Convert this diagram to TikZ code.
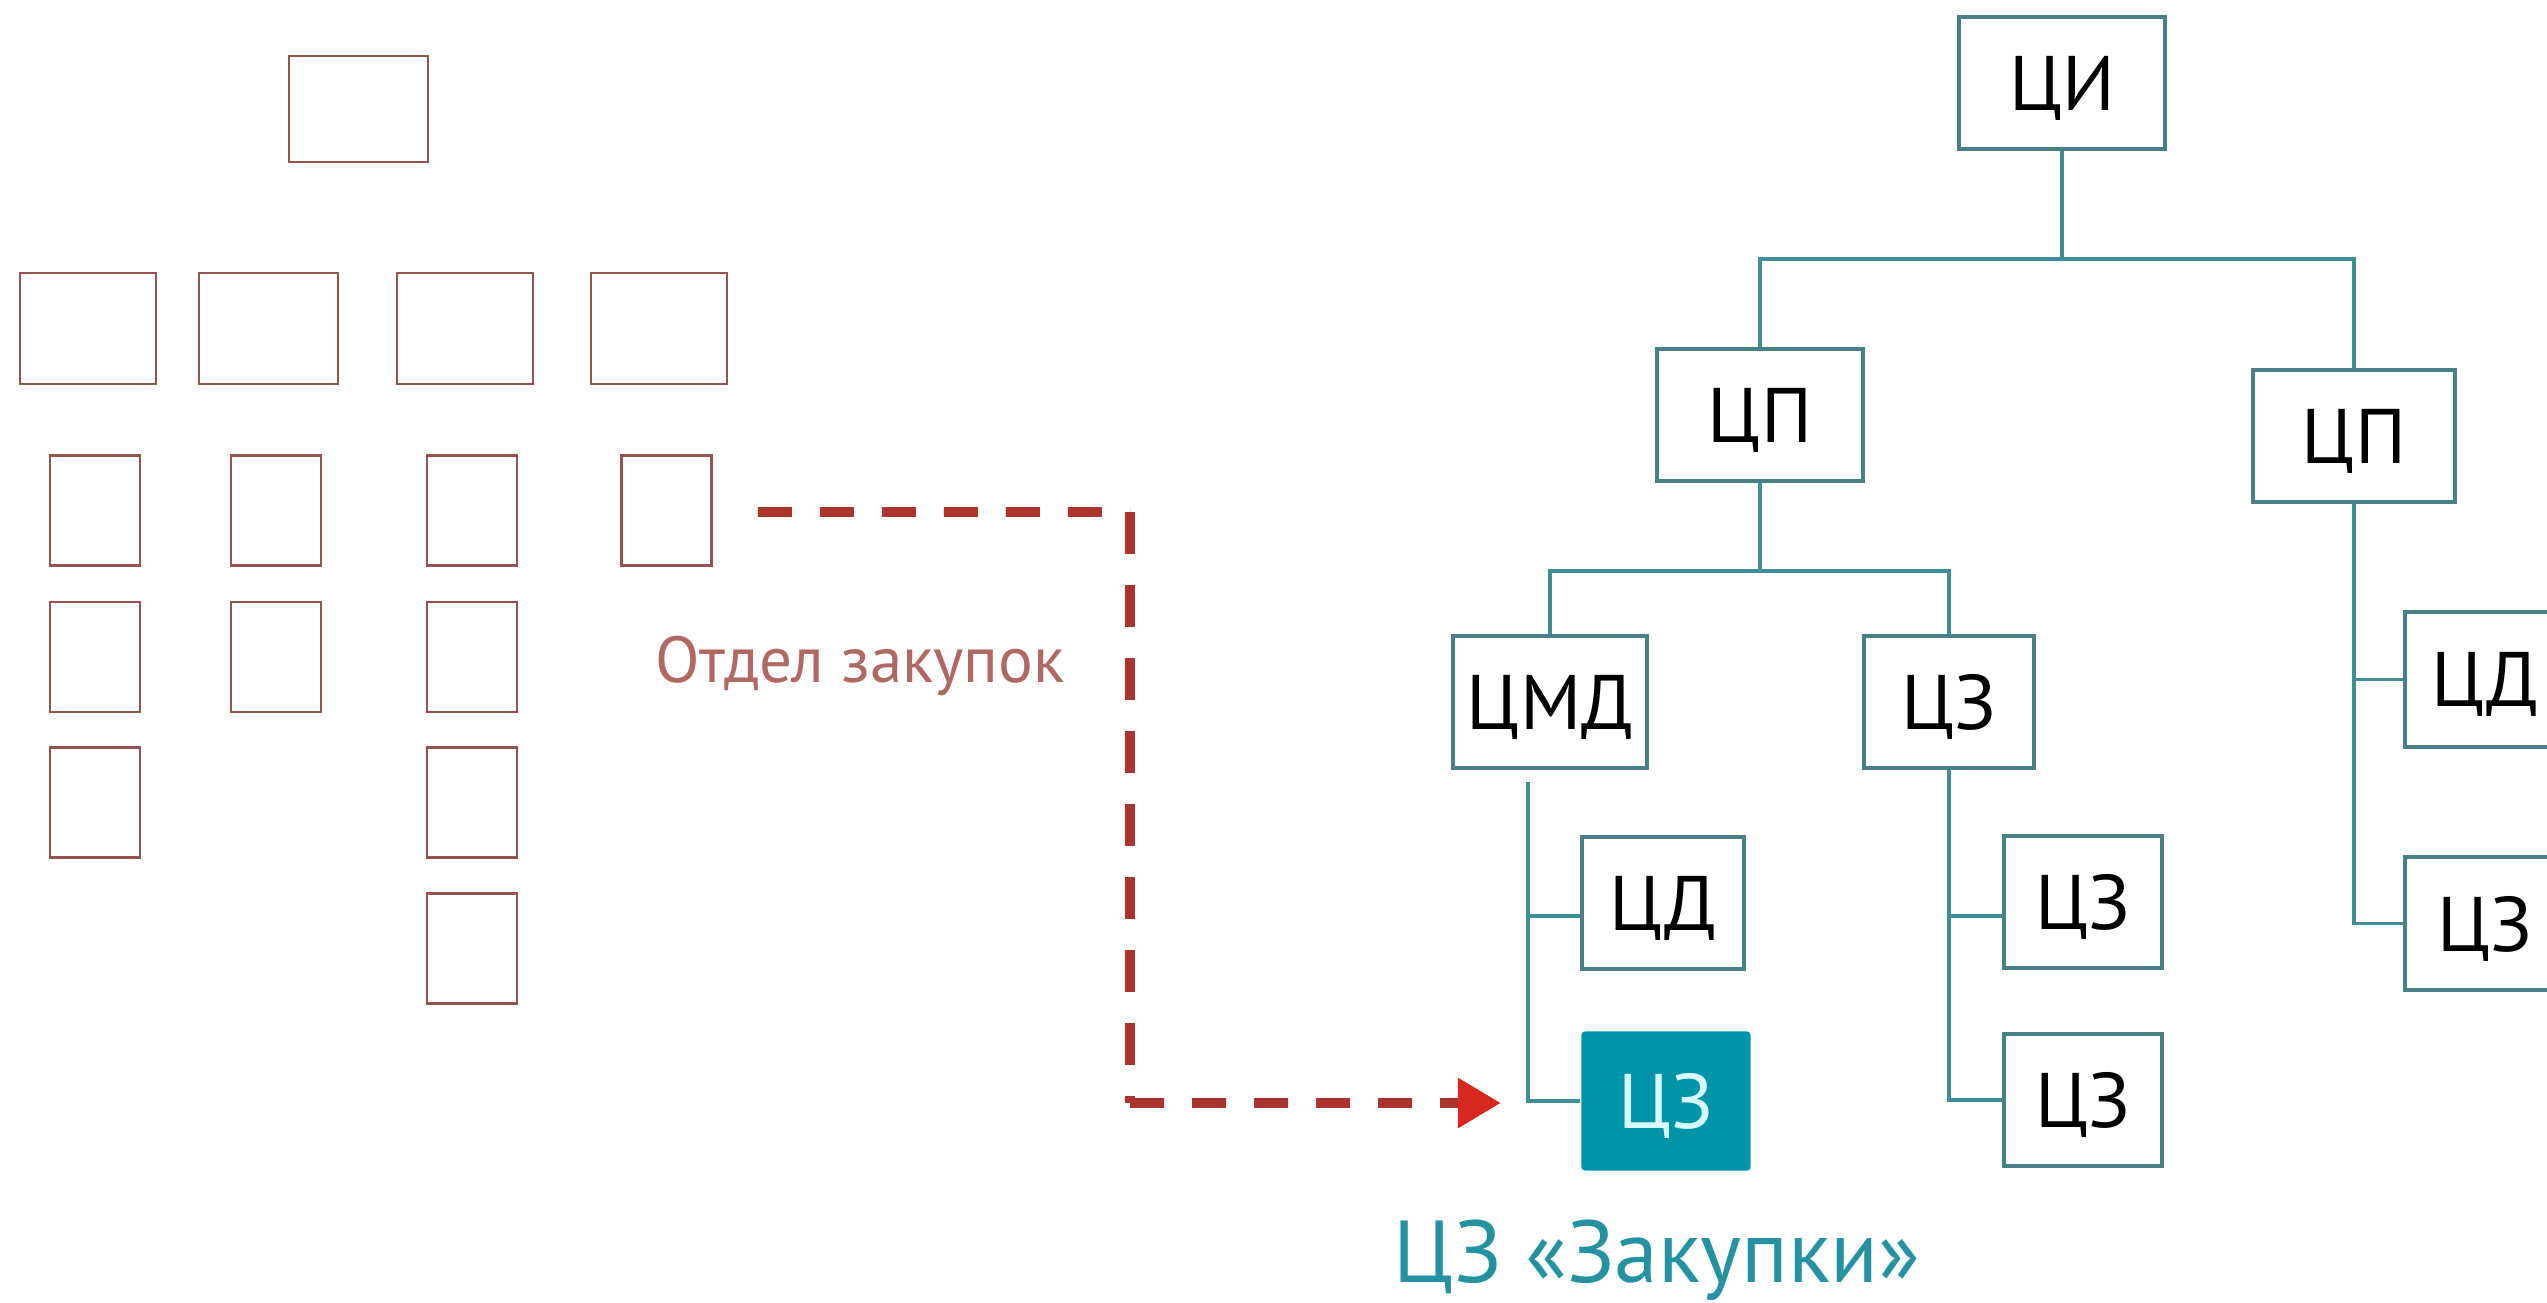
\documentclass[tikz,border=0pt]{standalone}
\usepackage{fontspec}
\setmainfont{PT Sans}
\usetikzlibrary{arrows.meta}
\definecolor{brick}{RGB}{150,82,76}
\definecolor{labelred}{RGB}{176,104,98}
\definecolor{dashred}{RGB}{172,52,46}
\definecolor{tipred}{RGB}{214,40,28}
\definecolor{tealline}{RGB}{62,142,152}
\definecolor{tealbox}{RGB}{72,128,136}
\definecolor{tealfill}{RGB}{0,148,168}
\definecolor{tealtext}{RGB}{36,146,160}
\definecolor{paletext}{RGB}{215,250,255}

\begin{document}
\begin{tikzpicture}[x=0.01cm,y=-0.01cm,
    oldbox/.style={draw=brick,line width=0.7pt,inner sep=0pt,minimum width=0.9cm,minimum height=1.1cm},
    newbox/.style={draw=tealbox,line width=0.9pt,fill=white,inner sep=0pt,text depth=0pt,
        minimum height=1.32cm,font=\fontsize{22pt}{26pt}\selectfont},
    hotbox/.style={newbox,draw=none,fill=tealfill,text=paletext,rounded corners=1pt,minimum height=1.39cm},
    link/.style={draw=tealline,line width=1pt},
    dashlink/.style={draw=dashred,line width=2.8pt}]
        \useasboundingbox (0,0) rectangle (2547,1302);

        % old structure
        \node[oldbox,minimum width=1.39cm,minimum height=1.06cm] (o0) at (358.5,109) {};
        \node[oldbox,minimum width=1.36cm,minimum height=1.11cm] (o1) at (88,328.5) {};
        \node[oldbox,minimum width=1.39cm,minimum height=1.11cm] (o2) at (268.5,328.5) {};
        \node[oldbox,minimum width=1.36cm,minimum height=1.11cm] (o3) at (465,328.5) {};
        \node[oldbox,minimum width=1.36cm,minimum height=1.11cm] (o4) at (659,328.5) {};
        \node[oldbox] (o11) at (95,510.5) {};
        \node[oldbox] (o12) at (95,657) {};
        \node[oldbox] (o13) at (95,802.5) {};
        \node[oldbox] (o21) at (276,510.5) {};
        \node[oldbox] (o22) at (276,657) {};
        \node[oldbox] (o31) at (472,510.5) {};
        \node[oldbox] (o32) at (472,657) {};
        \node[oldbox] (o33) at (472,802.5) {};
        \node[oldbox] (o34) at (472,948.5) {};
        \node[oldbox] (o41) at (666.5,510.5) {};
        \node[anchor=base west,text=labelred,font=\fontsize{18.5pt}{22pt}\selectfont] (dept) at (643,682) {Отдел закупок};

        % new structure
        \node[newbox,minimum width=2.06cm] (ci) at (2062,83) {ЦИ};
        \node[newbox,minimum width=2.06cm] (cp1) at (1760,415) {ЦП};
        \node[newbox,minimum width=2.02cm] (cp2) at (2354,436) {ЦП};
        \node[newbox,minimum width=1.94cm] (cmd) at (1550,702) {ЦМД};
        \node[newbox,minimum width=1.70cm] (cz1) at (1949,702) {ЦЗ};
        \node[newbox,minimum width=1.62cm] (cd1) at (1663,903) {ЦД};
        \node[hotbox,minimum width=1.69cm] (cz0) at (1666,1101) {ЦЗ};
        \node[newbox,minimum width=1.58cm] (cz2) at (2083,902) {ЦЗ};
        \node[newbox,minimum width=1.58cm] (cz3) at (2083,1100) {ЦЗ};
        \node[newbox,minimum width=1.60cm,minimum height=1.35cm] (cd2) at (2485,679.5) {ЦД};
        \node[newbox,minimum width=1.60cm,minimum height=1.33cm] (cz4) at (2485,923.5) {ЦЗ};
        \node[anchor=base,text=tealtext,font=\fontsize{25pt}{30pt}\selectfont] (cap) at (1657,1282) {ЦЗ «Закупки»};

        \coordinate (bus1) at (2062,259);
        \coordinate (bus2) at (1760,571);
        \coordinate (t1) at (1528,782);
        \draw[link] (ci) -- (bus1);
        \draw[link] (bus1) -| (cp1);
        \draw[link] (bus1) -| (cp2);
        \draw[link] (cp1) -- (bus2);
        \draw[link] (bus2) -| (cmd);
        \draw[link] (bus2) -| (cz1);
        \draw[link] (t1) |- (cz0);
        \draw[link] (t1 |- 0,916) -- (cd1.west |- 0,916);
        \draw[link] (cz1) |- (cz3);
        \draw[link] (cz1 |- 0,916) -- (cz2.west |- 0,916);
        \draw[link] (cp2) |- (cz4);
        \draw[link] (cp2 |- cd2) -- (cd2);

        % moving the department
        \coordinate (d1) at (1130,512);
        \coordinate (d2) at (1130,1103);
        \draw[dashlink,dash pattern=on 0.34cm off 0.28cm] ([xshift=0.45cm,yshift=-0.015cm]o41.east) -- (d1);
        \draw[dashlink,dash pattern=on 0.42cm off 0.31cm] (d1) -- (d2);
        \draw[dashlink,dash pattern=on 0.34cm off 0.28cm,-{Triangle[length=0.43cm,width=0.48cm,color=tipred]}] (d2) -- ([xshift=-0.79cm,yshift=-0.02cm]cz0.west);
    \end{tikzpicture}
\end{document}
